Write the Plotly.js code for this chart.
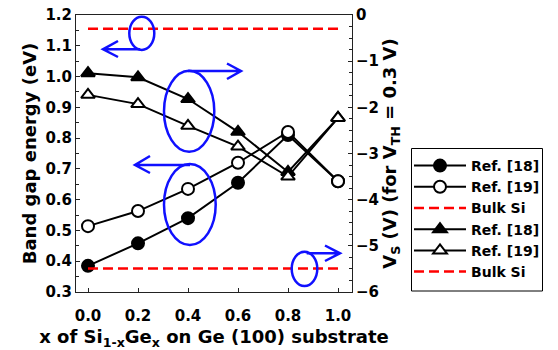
<!DOCTYPE html>
<html>
<head>
<meta charset="utf-8">
<script src="https://cdn.plot.ly/plotly-3.0.1.min.js"></script>
<style>html,body{margin:0;padding:0;background:#fff;overflow:hidden;width:558px;height:350px;}#chart{width:558px;height:350px;overflow:hidden;}</style>
</head>
<body>
<div id="chart"></div>
<script>
// ---- data ----
var xGe = [0.0, 0.2, 0.4, 0.6, 0.8, 1.0];
var gapRef18 = [0.385, 0.458, 0.540, 0.655, 0.810, 0.660];
var gapRef19 = [0.514, 0.563, 0.635, 0.720, 0.820, 0.660];
var bulkX = [0.0, 1.0];
var gapBulkSi = [1.155, 1.155];
var vsRef18 = [-1.26, -1.35, -1.82, -2.53, -3.40, -2.23];
var vsRef19 = [-1.73, -1.93, -2.40, -2.85, -3.50, -2.23];
var vsBulkSi = [-5.49, -5.49];
var legendNames = ["Ref. [18]", "Ref. [19]", "Bulk Si"];
var xTicks = [0.0, 0.2, 0.4, 0.6, 0.8, 1.0];
var xTickText = ["0.0", "0.2", "0.4", "0.6", "0.8", "1.0"];

// ---- geometry of the plot area (pixels) ----
var W = 558, H = 350, L = 76, R = 352, T = 15, B = 292;
function px(x){ return (x - L) / (R - L); }
function py(y){ return (B - y) / (B - T); }

var FONT = "DejaVu Sans";
var BLUE = "#1010ff";

function lineTrace(x, y, name, symbol, fill, yaxis){
  return {
    x: x, y: y, name: name, yaxis: yaxis, type: "scatter", mode: "lines+markers",
    line: {color: "#000", width: 2},
    marker: {symbol: symbol, size: 12, color: fill, line: {color: "#000", width: 2}}
  };
}
function dashTrace(x, y, name, yaxis){
  return {
    x: x, y: y, name: name, yaxis: yaxis, type: "scatter", mode: "lines",
    line: {color: "#ff0000", width: 2.5, dash: "10px,5px"}
  };
}

var traces = [
  lineTrace(xGe, gapRef18, legendNames[0], "circle", "#000", "y"),
  lineTrace(xGe, gapRef19, legendNames[1], "circle", "#fff", "y"),
  dashTrace(bulkX, gapBulkSi, legendNames[2], "y"),
  lineTrace(xGe, vsRef18, legendNames[0], "triangle-up", "#000", "y2"),
  lineTrace(xGe, vsRef19, legendNames[1], "triangle-up", "#fff", "y2"),
  dashTrace(bulkX, vsBulkSi, legendNames[2], "y2")
];

// ---- blue annotation ellipses and arrows (pixel positions -> paper) ----
function ellipse(x0, x1, y0, y1){
  return {type: "circle", xref: "paper", yref: "paper",
    x0: px(x0), x1: px(x1), y0: py(y1), y1: py(y0),
    line: {color: BLUE, width: 2.5}, layer: "above"};
}
function arrow(xs, xe, y, hx, hy1, hy2){
  var p = "M" + px(xs) + "," + py(y) + " L" + px(xe) + "," + py(y) +
          " M" + px(hx) + "," + py(hy1) + " L" + px(xe) + "," + py(y) + " L" + px(hx) + "," + py(hy2);
  return {type: "path", xref: "paper", yref: "paper", path: p,
    line: {color: BLUE, width: 2.5}, layer: "above"};
}
var shapes = [
  ellipse(129.3, 154.3, 16.7, 50),
  arrow(140, 103, 49.3, 118, 41, 57),
  ellipse(164, 214.3, 70.7, 151.7),
  arrow(188, 241, 71, 227, 63.5, 79),
  ellipse(164, 215.7, 164, 245),
  arrow(190, 135, 165, 150, 156, 173),
  ellipse(291.7, 317.3, 251.7, 286),
  arrow(306.7, 340, 253.3, 325, 245.5, 261),
  // legend frame
  {type: "rect", xref: "paper", yref: "paper",
   x0: px(411.5), x1: px(542.5), y0: py(291), y1: py(148.5),
   line: {color: "#000", width: 1}, layer: "above"}
];

var axisCommon = {
  showgrid: false, zeroline: false, showline: true, linecolor: "#222", linewidth: 1,
  ticks: "inside", ticklen: 4, tickwidth: 1, tickcolor: "#222",
  tickfont: {family: FONT, size: 15, color: "#000", weight: "bold"}
};
var titleFont = {family: FONT, size: 18, color: "#000", weight: "bold"};

var layout = {
  width: W, height: H,
  margin: {l: L, r: W - R, t: T, b: H - B, autoexpand: false},
  paper_bgcolor: "#fff", plot_bgcolor: "#fff",
  font: {family: FONT, color: "#000"},
  showlegend: true,
  legend: {
    x: px(409), y: py(150), xanchor: "left", yanchor: "top",
    borderwidth: 0, bgcolor: "rgba(0,0,0,0)",
    font: {family: FONT, size: 14, color: "#000", weight: "bold"},
    tracegroupgap: 0, traceorder: "normal", itemwidth: 52
  },
  xaxis: Object.assign({}, axisCommon, {
    range: [-0.048, 1.056], tickvals: xTicks, ticktext: xTickText, mirror: true,
    ticklabelstandoff: 10,
    title: {text: "x of Si<sub>1-x</sub>Ge<sub>x</sub> on Ge (100) substrate",
            font: titleFont, standoff: 8}
  }),
  yaxis: Object.assign({}, axisCommon, {
    range: [0.3, 1.2], dtick: 0.1, tick0: 0.3, tickformat: ".1f",
    minor: {dtick: 0.05, ticks: "inside", ticklen: 3, tickcolor: "#222"},
    title: {text: "Band gap energy (eV)", font: titleFont, standoff: 4}
  }),
  yaxis2: Object.assign({}, axisCommon, {
    overlaying: "y", side: "right", range: [-6, 0], dtick: 1, tick0: 0,
    minor: {dtick: 0.25, ticks: "inside", ticklen: 3, tickcolor: "#222"},
    title: {text: "V<sub>S</sub> (V) (for V<sub>TH</sub> = 0.3 V)", font: titleFont, standoff: 4}
  }),
  shapes: shapes
};

Plotly.newPlot("chart", traces, layout, {displayModeBar: false, staticPlot: true});
</script>
</body>
</html>
